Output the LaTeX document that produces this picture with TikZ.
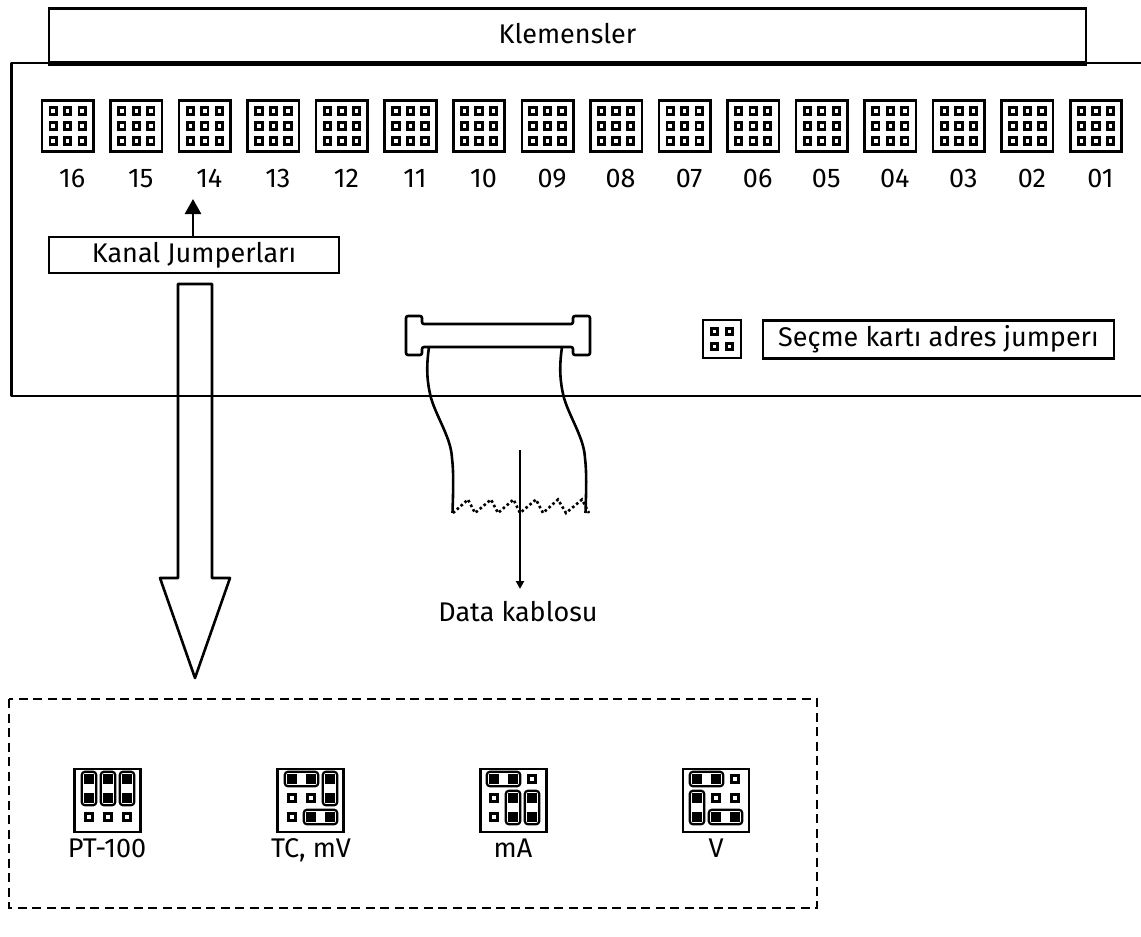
\documentclass[tikz,border=0pt]{standalone}
\usepackage{fontspec}
\setmainfont{Fira Sans}
\usetikzlibrary{arrows.meta, positioning}

\begin{document}
\begin{tikzpicture}[
    x=1pt, y=-1pt,
    box/.style={rectangle, draw=black, line width=2.6pt, inner sep=0pt, font=\fontsize{27}{30}\selectfont},
    label/.style={font=\fontsize{27}{30}\selectfont, inner sep=0pt, anchor=base},
    wire/.style={draw=black, line width=2.6pt, line join=round},
    hand/.style={draw=black, line width=2.6pt, -{Triangle[length=15pt, width=16pt]}},
    pin/.style={draw=black, line width=2.9pt, fill=white, minimum size=6.4pt, inner sep=0pt, rectangle},
    block/.style={draw=black, line width=2.6pt, fill=white, rectangle, inner sep=0pt},
    shuntbar/.style={draw=black, line width=2.2pt, rounded corners=3pt},
    shuntpin/.style={fill=black, minimum size=9.6pt, inner sep=0pt, rectangle},
]
    \useasboundingbox (0,0) rectangle (1141,937);

    % Board
    \draw[wire] (1141,63) -- (11.5,63) -- (11.5,396) -- (1141,396);
    \node[box, minimum width=1037pt, minimum height=54pt] (klemens) at (567.5,35.5) {\raisebox{4pt}{Klemensler}};
    \draw[line width=4.4pt] (klemens.south west) -- (klemens.south east);

    % Channel jumpers
    \foreach \i/\txt in {0/16,1/15,2/14,3/13,4/12,5/11,6/10,7/09,8/08,9/07,10/06,11/05,12/04,13/03,14/02,15/01} {
        \pgfmathsetmacro{\bx}{67.7+68.55*\i}
        \node[block, minimum size=51.5pt] (ch\txt) at (\bx,126) {};
        \foreach \px in {-14.5,0,14.5} \foreach \py in {-15,0,15}
            \node[pin] at (\bx+\px,126+\py) {};
        \node[label] (lab\txt) at (\bx+4.5,187) {\txt};
    }

    \node[box, minimum width=290pt, minimum height=36pt] (kanal) at (194,255) {Kanal Jumperları};
    \coordinate (kanaltip) at (193,199);
    \draw[hand] (kanal.north -| kanaltip) -- (kanaltip);

    % Big arrow
    \draw[wire] (178,284) -- (212,284) -- (212,578) -- (230,578) -- (195,678) -- (160,578) -- (178,578) -- cycle;

    % Address jumper
    \node[block, minimum width=38pt, minimum height=38pt] (adres) at (722,339) {};
    \foreach \px in {-7.5,7.5} \foreach \py in {-7.5,7.5}
        \node[pin] at (722+\px,339+\py) {};
    \node[box, minimum width=351pt, minimum height=38pt] (secme) at (938.5,339.5) {Seçme kartı adres jumperı};

    % Data connector
    \draw[wire, rounded corners=2pt] (422,324) -- (422,316) -- (406,316) -- (406,355) -- (422,355) -- (422,347)
        -- (573,347) -- (573,355) -- (590,355) -- (590,316) -- (573,316) -- (573,324) -- cycle;
    \coordinate (cableL) at (429,347);
    \coordinate (cableR) at (562,347);
    \draw[wire] (cableL) .. controls (426,368) and (427,382) .. (431,398) .. controls (437,418) and (451,438) .. (452,458) .. controls (454,475) and (453,495) .. (452.5,513);
    \draw[wire] (cableR) .. controls (559,368) and (560,382) .. (564,398) .. controls (570,418) and (584,438) .. (585,458) .. controls (587,475) and (586,495) .. (585.5,513);
    \draw[line width=2.6pt, dash pattern=on 2.6pt off 2.6pt] (453,513) -- (468,499.5) -- (475,513) -- (491,499.5) -- (498,513) -- (513.5,499.5) -- (520,513) -- (536,499.5) -- (543,513) -- (558,499.5) -- (566,513) -- (582,499.5) -- (589,513);
    \coordinate (datatop) at (520,450);
    \node[label] (data) at (518,621) {Data kablosu};
    \draw[line width=2.4pt, -{Triangle[length=8pt, width=8pt]}] (datatop) -- (520,589);

    % Settings
    \draw[line width=2.6pt, dash pattern=on 9pt off 5.5pt] (9,699) rectangle (817,908);

    \foreach \name/\bx/\txt/\lx in {pt/107.5/PT-100/107, tc/310.5/{TC, mV}/311, ma/513.5/mA/513, v/716/V/716} {
        \node[block, minimum width=66pt, minimum height=63pt] (set\name) at (\bx,800.5) {};
        \node[label] (lab\name) at (\lx,857) {\txt};
    }

    % PT-100
    \begin{scope}[shift={(108,798)}]
        \foreach \c in {-19,0,19} {
            \draw[shuntbar] (\c-7.2,-26.2) rectangle (\c+7.2,7.2);
            \node[shuntpin] at (\c,-19) {};
            \node[shuntpin] at (\c,0) {};
            \node[pin] at (\c,19) {};
        }
    \end{scope}

    % TC, mV
    \begin{scope}[shift={(311,798)}]
        \draw[shuntbar] (-26.2,-26.2) rectangle (7.2,-11.8);
        \draw[shuntbar] (11.8,-26.2) rectangle (26.2,7.2);
        \draw[shuntbar] (-7.2,11.8) rectangle (26.2,26.2);
        \foreach \c/\r in {-19/-19,0/-19,19/-19,19/0,0/19,19/19}
            \node[shuntpin] at (\c,\r) {};
        \foreach \c/\r in {-19/0,0/0,-19/19}
            \node[pin] at (\c,\r) {};
    \end{scope}

    % mA
    \begin{scope}[shift={(513,798)}]
        \draw[shuntbar] (-26.2,-26.2) rectangle (7.2,-11.8);
        \draw[shuntbar] (-7.2,-7.2) rectangle (7.2,26.2);
        \draw[shuntbar] (11.8,-7.2) rectangle (26.2,26.2);
        \foreach \c/\r in {-19/-19,0/-19,0/0,0/19,19/0,19/19}
            \node[shuntpin] at (\c,\r) {};
        \foreach \c/\r in {19/-19,-19/0,-19/19}
            \node[pin] at (\c,\r) {};
    \end{scope}

    % V
    \begin{scope}[shift={(716,798)}]
        \draw[shuntbar] (-26.2,-26.2) rectangle (7.2,-11.8);
        \draw[shuntbar] (-26.2,-7.2) rectangle (-11.8,26.2);
        \draw[shuntbar] (-7.2,11.8) rectangle (26.2,26.2);
        \foreach \c/\r in {-19/-19,0/-19,-19/0,-19/19,0/19,19/19}
            \node[shuntpin] at (\c,\r) {};
        \foreach \c/\r in {19/-19,0/0,19/0}
            \node[pin] at (\c,\r) {};
    \end{scope}
\end{tikzpicture}
\end{document}
